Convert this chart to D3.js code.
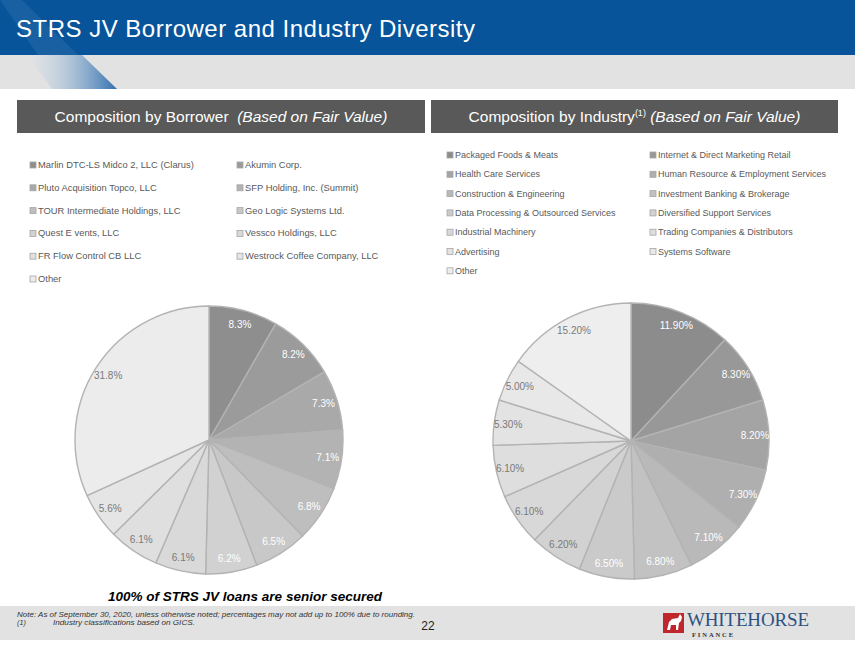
<!DOCTYPE html>
<html>
<head>
<meta charset="utf-8">
<script src="https://cdn.jsdelivr.net/npm/d3@7"></script>
<style>
  body { margin: 0; background: #fff; }
  svg { display: block; font-family: "Liberation Sans", Arial, sans-serif; }
</style>
</head>
<body>
<svg id="chart" width="855" height="654"></svg>
<script>
// borrower data
const borrowers = ["Marlin DTC-LS Midco 2, LLC (Clarus)", "Akumin Corp.", "Pluto Acquisition Topco, LLC",
  "SFP Holding, Inc. (Summit)", "TOUR Intermediate Holdings, LLC", "Geo Logic Systems Ltd.",
  "Quest E vents, LLC", "Vessco Holdings, LLC", "FR Flow Control CB LLC",
  "Westrock Coffee Company, LLC", "Other"];
const borrowerValues = [8.3, 8.2, 7.3, 7.1, 6.8, 6.5, 6.2, 6.1, 6.1, 5.6, 31.8];
const borrowerColors = ["#8e8e8e", "#9b9b9b", "#a9a9a9", "#b3b3b3", "#bebebe", "#c8c8c8",
  "#d1d1d1", "#d9d9d9", "#dfdfdf", "#e5e5e5", "#ececec"];

// industry data
const industries = ["Packaged Foods & Meats", "Internet & Direct Marketing Retail", "Health Care Services",
  "Human Resource & Employment Services", "Construction & Engineering", "Investment Banking & Brokerage",
  "Data Processing & Outsourced Services", "Diversified Support Services", "Industrial Machinery",
  "Trading Companies & Distributors", "Advertising", "Systems Software", "Other"];
const industryValues = [11.9, 8.3, 8.2, 7.3, 7.1, 6.8, 6.5, 6.2, 6.1, 6.1, 5.3, 5.0, 15.2];
const industryColors = ["#8c8c8c", "#989898", "#a4a4a4", "#afafaf", "#b9b9b9", "#c2c2c2",
  "#cacaca", "#d2d2d2", "#d8d8d8", "#dedede", "#e3e3e3", "#e8e8e8", "#eeeeee"];

const svg = d3.select("#chart");

// ---- header
let defs = svg.append("defs");
let grad = defs.append("linearGradient").attr("id", "stripe")
  .attr("x1", "0%").attr("x2", "100%").attr("y1", "0%").attr("y2", "0%");
grad.append("stop").attr("offset", "0%").attr("stop-color", "#dfe6ee").attr("stop-opacity", 0.2);
grad.append("stop").attr("offset", "100%").attr("stop-color", "#2f6fae");

svg.append("rect").attr("x", 0).attr("y", 0).attr("width", 855).attr("height", 55).attr("fill", "#07549a");
svg.append("polygon").attr("points", "0,0 22,0 78,55 38,55").attr("fill", "#ffffff").attr("opacity", 0.07);
svg.append("rect").attr("x", 0).attr("y", 55).attr("width", 855).attr("height", 34).attr("fill", "#e2e2e2");
svg.append("polygon").attr("points", "27,55 82,55 117,89 52,89").attr("fill", "url(#stripe)");

svg.append("text").attr("x", 16).attr("y", 37)
  .attr("fill", "#fff").attr("font-size", 24)
  .attr("textLength", 459).attr("lengthAdjust", "spacing")
  .text("STRS JV Borrower and Industry Diversity");

// section header boxes
let boxes = [
  {x: 17, w: 408, main: "Composition by Borrower", sup: "", note: "(Based on Fair Value)"},
  {x: 431, w: 407, main: "Composition by Industry", sup: "(1)", note: "(Based on Fair Value)"}
];
boxes.forEach(function(b){
  svg.append("rect").attr("x", b.x).attr("y", 100).attr("width", b.w).attr("height", 33).attr("fill", "#595959");
  let t = svg.append("text").attr("x", b.x + b.w / 2).attr("y", 122)
    .attr("text-anchor", "middle").attr("fill", "#fff").attr("font-size", 15.5);
  t.append("tspan").text(b.main);
  if (b.sup) t.append("tspan").attr("font-size", 9).attr("dy", -6).text(b.sup);
  t.append("tspan").attr("dy", b.sup ? 6 : 0).attr("font-style", "italic")
    .text((b.sup ? "\u00a0" : "\u00a0\u00a0") + b.note);
});

// ---- legends
function legend(names, colors, x0, x1, y0, step, fs) {
  let g = svg.append("g");
  let items = g.selectAll("g").data(names).enter().append("g")
    .attr("transform", (d, i) => "translate(" + (i % 2 === 0 ? x0 : x1) + "," + (y0 + Math.floor(i / 2) * step) + ")");
  items.append("rect").attr("x", 0).attr("y", -6).attr("width", 6).attr("height", 6)
    .attr("fill", (d, i) => colors[i]).attr("stroke", "#a6a6a6").attr("stroke-width", 0.8);
  items.append("text").attr("x", 8).attr("y", 0).attr("font-size", fs).attr("fill", "#595959")
    .text(d => d);
}
legend(borrowers, borrowerColors, 30, 237, 168, 22.8, 9.4);
legend(industries, industryColors, 447, 650, 158, 19.3, 9);

// ---- pies
function pie(values, colors, cx, cy, r, whiteCount, fmt) {
  let g = svg.append("g").attr("transform", "translate(" + cx + "," + cy + ")");
  let arcs = d3.pie().sort(null)(values);
  let arc = d3.arc().innerRadius(0).outerRadius(r);
  let labelArc = d3.arc().innerRadius(r - 14).outerRadius(r - 14);
  g.selectAll("path").data(arcs).enter().append("path")
    .attr("d", arc)
    .attr("fill", (d, i) => colors[i])
    .attr("stroke", "#b3b3b3").attr("stroke-width", 1.4);
  g.selectAll("text").data(arcs).enter().append("text")
    .attr("transform", function(d){
      let c = labelArc.centroid(d);
      return "translate(" + c[0] + "," + c[1] + ")";
    })
    .attr("dy", "0.35em")
    .attr("text-anchor", "middle")
    .attr("font-size", 10)
    .attr("fill", (d, i) => i < whiteCount ? "#ffffff" : "#7a7a7a")
    .text(d => fmt(d.value));
}
pie(borrowerValues, borrowerColors, 209, 440, 134, 7, v => v.toFixed(1) + "%");
pie(industryValues, industryColors, 631, 441, 138, 7, v => v.toFixed(2) + "%");

// ---- footer
svg.append("text").attr("x", 245).attr("y", 601).attr("text-anchor", "middle")
  .attr("font-size", 13.5).attr("font-weight", "bold").attr("font-style", "italic").attr("fill", "#000")
  .text("100% of STRS JV loans are senior secured");

svg.append("rect").attr("x", 0).attr("y", 606).attr("width", 855).attr("height", 34).attr("fill", "#e2e2e2");
svg.append("text").attr("x", 17).attr("y", 617).attr("font-size", 7.2).attr("font-style", "italic").attr("fill", "#333")
  .attr("textLength", 398).attr("lengthAdjust", "spacingAndGlyphs")
  .text("Note: As of September 30, 2020, unless otherwise noted; percentages may not add up to 100% due to rounding.");
svg.append("text").attr("x", 17).attr("y", 625).attr("font-size", 7.2).attr("font-style", "italic").attr("fill", "#333")
  .text("(1)");
svg.append("text").attr("x", 53).attr("y", 625).attr("font-size", 7.2).attr("font-style", "italic").attr("fill", "#333")
  .attr("textLength", 142).attr("lengthAdjust", "spacingAndGlyphs")
  .text("Industry classifications based on GICS.");
svg.append("text").attr("x", 428).attr("y", 630).attr("text-anchor", "middle").attr("font-size", 12).attr("fill", "#222")
  .text("22");

// logo
svg.append("rect").attr("x", 663).attr("y", 613).attr("width", 21).attr("height", 20).attr("fill", "#c0272d");
svg.append("path").attr("d", "M667,630 L669,622 L672,619 L678,618 L680,614 L682,617 L681,621 L679,623 L678,630 L676,630 L676,625 L671,625 L670,630 Z")
  .attr("fill", "#fff");
svg.append("text").attr("x", 687).attr("y", 626).attr("font-family", "Liberation Serif, serif")
  .attr("font-size", 19).attr("fill", "#2d5283").attr("textLength", 122).text("WHITEHORSE");
svg.append("text").attr("x", 692).attr("y", 637).attr("font-family", "Liberation Serif, serif")
  .attr("font-size", 6.5).attr("font-weight", "bold").attr("fill", "#333").attr("textLength", 41).text("FINANCE");
</script>
</body>
</html>
